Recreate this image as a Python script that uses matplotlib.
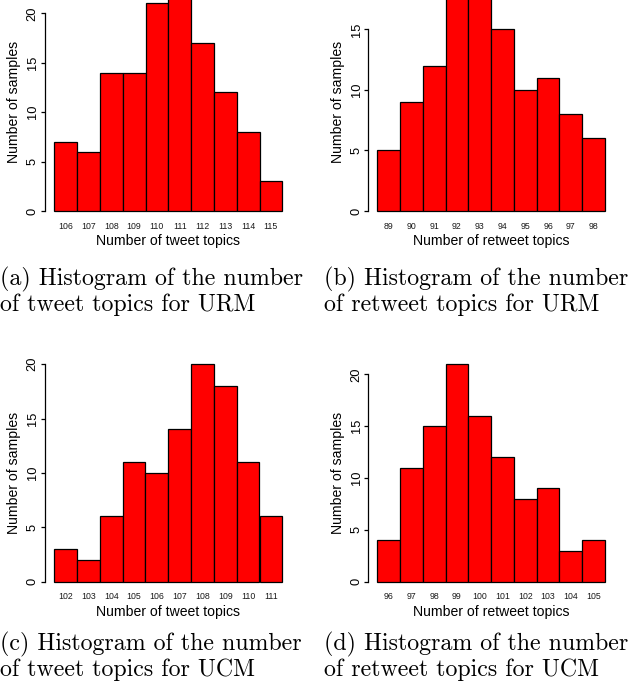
import matplotlib
matplotlib.use("Agg")
import matplotlib.pyplot as plt

# ---------------- data ----------------
tweet_topics_urm = [106, 107, 108, 109, 110, 111, 112, 113, 114, 115]
tweet_counts_urm = [7, 6, 14, 14, 21, 22, 17, 12, 8, 3]

retweet_topics_urm = [89, 90, 91, 92, 93, 94, 95, 96, 97, 98]
retweet_counts_urm = [5, 9, 12, 18, 18, 15, 10, 11, 8, 6]

tweet_topics_ucm = [102, 103, 104, 105, 106, 107, 108, 109, 110, 111]
tweet_counts_ucm = [3, 2, 6, 11, 10, 14, 20, 18, 11, 6]

retweet_topics_ucm = [96, 97, 98, 99, 100, 101, 102, 103, 104, 105]
retweet_counts_ucm = [4, 11, 15, 21, 16, 12, 8, 9, 3, 4]

y_ticks_20 = [0, 5, 10, 15, 20]
y_ticks_15 = [0, 5, 10, 15]

xlabel_tweet = "Number of tweet topics"
xlabel_retweet = "Number of retweet topics"
ylabel_text = "Number of samples"

captions = [
    ("(a) Histogram of the number", "of tweet topics for URM"),
    ("(b) Histogram of the number", "of retweet topics for URM"),
    ("(c) Histogram of the number", "of tweet topics for UCM"),
    ("(d) Histogram of the number", "of retweet topics for UCM"),
]

# ---------------- layout (pixels) ----------------
W, H = 639, 683
DPI = 100
fig = plt.figure(figsize=(W / DPI, H / DPI), dpi=DPI)

panels = [
    dict(x=tweet_topics_urm, y=tweet_counts_urm, yt=y_ticks_20, xl=xlabel_tweet,
         axis_px=44.5, bar_l=54.3, bar_r=282.3, y0=211.0, upu=9.885),
    dict(x=retweet_topics_urm, y=retweet_counts_urm, yt=y_ticks_15, xl=xlabel_retweet,
         axis_px=368.3, bar_l=377.3, bar_r=605.0, y0=211.0, upu=12.11),
    dict(x=tweet_topics_ucm, y=tweet_counts_ucm, yt=y_ticks_20, xl=xlabel_tweet,
         axis_px=44.5, bar_l=54.3, bar_r=282.3, y0=581.7, upu=10.88),
    dict(x=retweet_topics_ucm, y=retweet_counts_ucm, yt=y_ticks_20, xl=xlabel_retweet,
         axis_px=368.3, bar_l=377.3, bar_r=605.0, y0=581.7, upu=10.37),
]

label_font = "Liberation Sans"
LW = 0.9

for p in panels:
    xs = p["x"]
    ys = p["y"]
    n = len(xs)
    bw = (p["bar_r"] - p["bar_l"]) / n
    ext = (p["bar_l"] - p["axis_px"]) / bw  # data units
    x_lo = xs[0] - 0.5 - ext
    x_hi = xs[-1] + 0.5 + ext
    left_px = p["axis_px"]
    right_px = p["bar_r"] + (p["bar_l"] - p["axis_px"])
    ymax = max(ys)
    y_lo = -0.04 * ymax
    y_hi = 1.04 * ymax
    bottom_px = p["y0"] - y_lo * p["upu"]
    top_px = p["y0"] - y_hi * p["upu"]

    ax = fig.add_axes([left_px / W, 1 - bottom_px / H,
                       (right_px - left_px) / W, (bottom_px - top_px) / H])
    ax.bar(xs, ys, width=1.0, color="#ff0000", edgecolor="black", linewidth=LW)
    ax.set_xlim(x_lo, x_hi)
    ax.set_ylim(y_lo, y_hi)
    ax.patch.set_alpha(0)

    for s in ("top", "right", "bottom"):
        ax.spines[s].set_visible(False)
    ax.spines["left"].set_bounds(p["yt"][0], p["yt"][-1])
    ax.spines["left"].set_linewidth(LW)

    ax.set_yticks(p["yt"])
    ax.set_yticklabels([str(t) for t in p["yt"]], rotation=90,
                       fontsize=9.3, family=label_font, va="center", ha="right")
    ax.tick_params(axis="y", direction="out", length=3.1, width=LW, pad=1.0)

    ax.set_xticks(xs)
    ax.set_xticklabels([str(v) for v in xs], fontsize=6.3, family=label_font,
                       color="#1a1a1a")
    ax.tick_params(axis="x", length=0, pad=1.3)

    ax.set_xlabel(p["xl"], fontsize=10.1, family=label_font)
    ax.xaxis.label.set_va("center")
    ax.xaxis.set_label_coords(0.5, -21.3 / (bottom_px - top_px))

    ax.set_ylabel(ylabel_text, fontsize=10.1, family=label_font)
    ax.yaxis.label.set_va("center")
    ax.yaxis.label.set_ha("center")
    ax.yaxis.set_label_coords(-30.3 / (right_px - left_px), 0.5)

# captions
cap_x = [0.0, 324.5, 0.0, 324.5]
cap_base = [285.6, 285.6, 650.6, 650.6]
line_gap = 25.5
for (l1, l2), cx, cb in zip(captions, cap_x, cap_base):
    fig.text(cx / W, 1 - cb / H, l1, family="cmr10", fontsize=17.2,
             ha="left", va="baseline")
    fig.text(cx / W, 1 - (cb + line_gap) / H, l2, family="cmr10", fontsize=17.2,
             ha="left", va="baseline")

fig.savefig("out.png", dpi=DPI, facecolor="white")
